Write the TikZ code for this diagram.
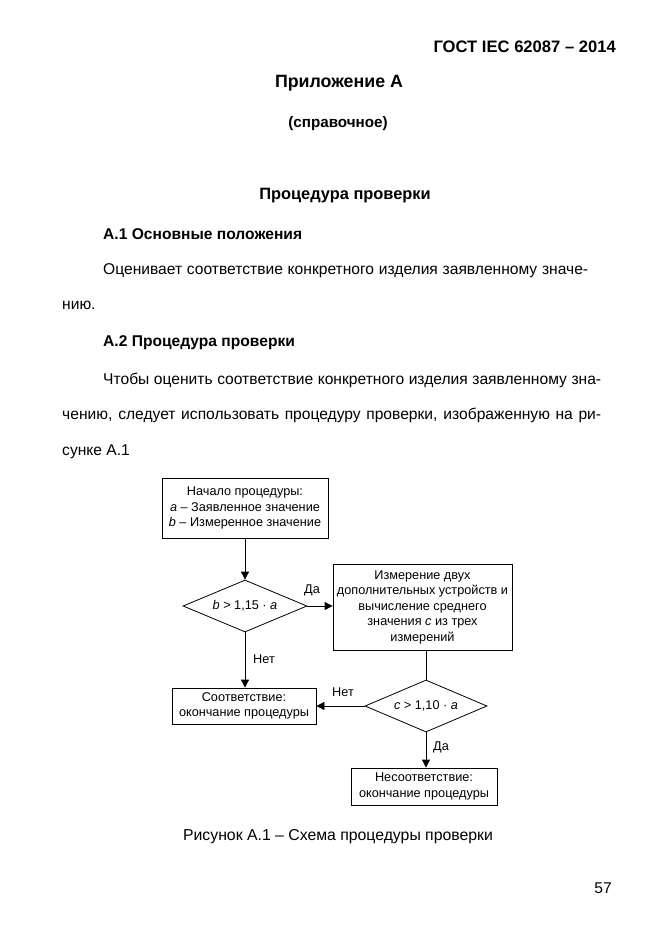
\documentclass[tikz,border=0pt]{standalone}
\usepackage{fontspec}
\setmainfont{Liberation Sans}
\usetikzlibrary{shapes.geometric,arrows.meta}
\newcommand{\bodyfs}{\fontsize{15.6}{18}\selectfont}
\newcommand{\diagfs}{\fontsize{12.7}{15.5}\selectfont}
\tikzset{
  pbox/.style={draw, line width=0.8pt, inner sep=0pt, align=center, font=\diagfs},
  dbox/.style={draw, line width=0.8pt, diamond, shape aspect=2.4, inner sep=0pt, align=center, font=\diagfs},
  arr/.style={line width=0.8pt, -{Triangle[length=8pt,width=8pt]}},
  lnk/.style={line width=0.8pt},
  lbl/.style={font=\diagfs, inner sep=0pt},
  body/.style={font=\bodyfs, inner sep=0pt, anchor=base west},
  head/.style={font=\bodyfs\bfseries, inner sep=0pt, anchor=base},
}
\begin{document}
\begin{tikzpicture}[x=1pt,y=-1pt]
\path[use as bounding box, fill=white] (0,0) rectangle (661,936);
% header
\node[head, anchor=base east, font=\fontsize{16.6}{19}\selectfont\bfseries] (gost) at (616,53) {ГОСТ IEC 62087 – 2014};
\node[head, font=\fontsize{17.8}{20}\selectfont\bfseries] (app) at (339,88) {Приложение А};
\node[head, font=\fontsize{15.2}{18}\selectfont\bfseries] (ref) at (338,128) {(справочное)};
\node[head, font=\fontsize{16.4}{19}\selectfont\bfseries] (title) at (345,199) {Процедура проверки};
\node[body, font=\bodyfs\bfseries] (a1) at (103,239) {А.1 Основные положения};
\node[body] (p1) at (103,274) {\makebox[485pt][s]{Оценивает соответствие конкретного изделия заявленному значе-}};
\node[body] (p2) at (62,309) {нию.};
\node[body, font=\bodyfs\bfseries] (a2) at (103,346) {А.2 Процедура проверки};
\node[body] (p3) at (103,384) {\makebox[498pt][s]{Чтобы оценить соответствие конкретного изделия заявленному зна-}};
\node[body] (p4) at (62,419) {\makebox[539pt][s]{чению, следует использовать процедуру проверки, изображенную на ри-}};
\node[body] (p5) at (62,455) {сунке А.1};

% diagram
\node[pbox, minimum width=166pt, minimum height=60pt] (start) at (245,508)
  {Начало процедуры:\\ \textit{a} – Заявленное значение\\ \textit{b} – Измеренное значение};
\node[dbox, minimum width=124pt, minimum height=52pt] (d1) at (245,606) {\textit{b} > 1,15 · \textit{a}};
\node[pbox, minimum width=179pt, minimum height=86pt] (meas) at (422.5,607)
  {Измерение двух\\ дополнительных устройств и\\ вычисление среднего\\ значения \textit{c} из трех\\ измерений};
\node[dbox, minimum width=122pt, minimum height=52pt] (d2) at (426,706) {\textit{c} > 1,10 · \textit{a}};
\node[pbox, minimum width=144pt, minimum height=36pt] (ok) at (244,706)
  {Соответствие:\\ окончание процедуры};
\node[pbox, minimum width=146pt, minimum height=37pt] (nok) at (424,786.5)
  {Несоответствие:\\ окончание процедуры};

\draw[arr] (start.south) -- (d1.north);
\draw[arr] (d1.east) -- (meas.west |- d1.east);
\node[lbl] (da1) at (312,590) {Да};
\draw[arr] (d1.south) -- (ok.north -| d1.south);
\node[lbl] (net1) at (264,659) {Нет};
\coordinate (mb) at (d2.north |- meas.south);
\draw[lnk] (mb) -- (d2.north);
\draw[arr] (d2.west) -- (ok.east |- d2.west);
\node[lbl] (net2) at (343,692) {Нет};
\draw[arr] (d2.south) -- (nok.north -| d2.south);
\node[lbl] (da2) at (441,747) {Да};

\node[inner sep=0pt, font=\fontsize{15.8}{18}\selectfont, anchor=base] (cap) at (338,840) {Рисунок А.1 – Схема процедуры проверки};
\node[inner sep=0pt, font=\bodyfs, anchor=base] (pg) at (603,893) {57};
\end{tikzpicture}
\end{document}
